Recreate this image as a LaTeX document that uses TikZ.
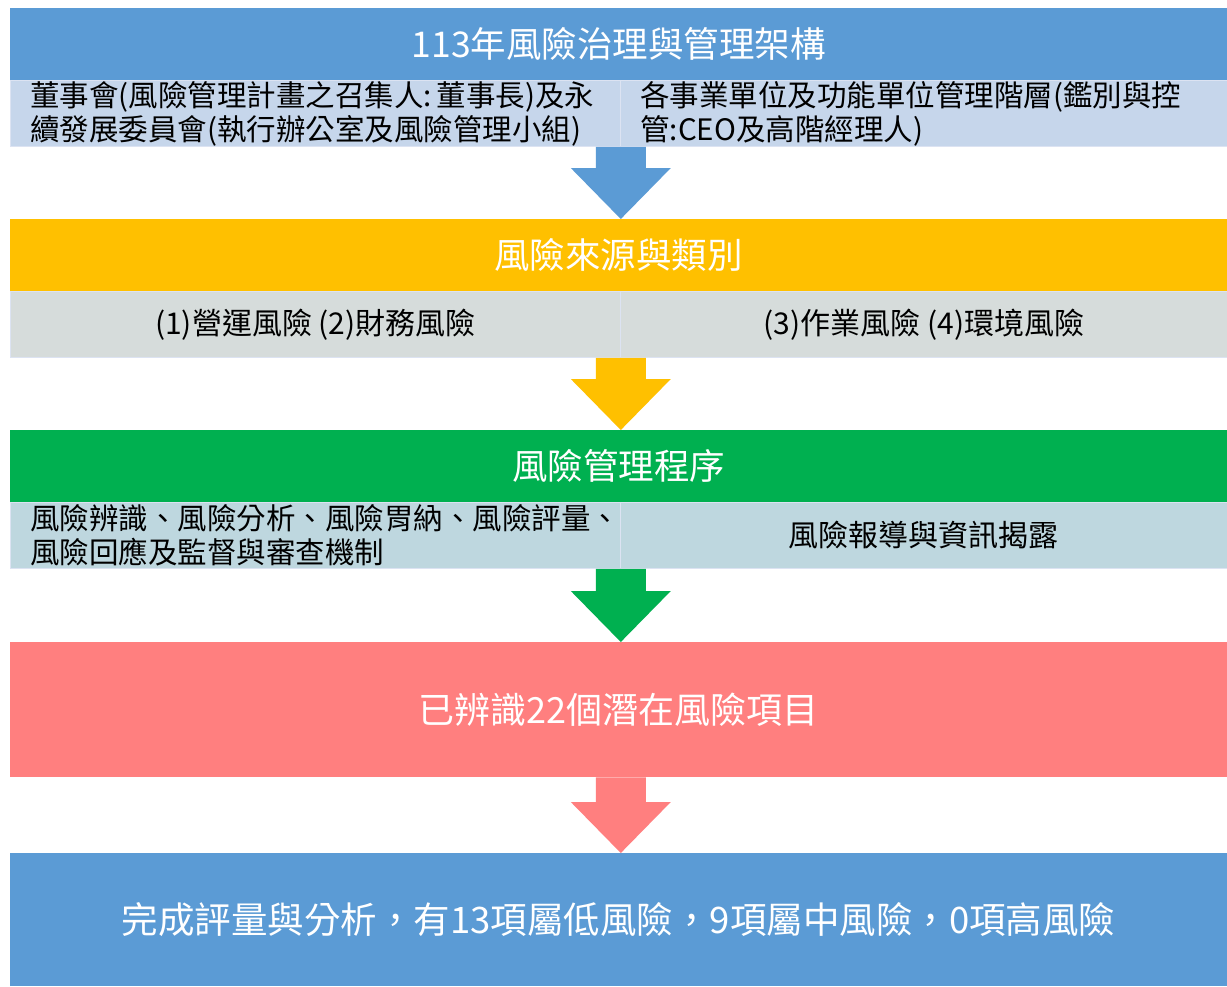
\documentclass[tikz,border=0pt]{standalone}
\usepackage{fontspec}
\setmainfont{Noto Sans CJK TC}
\usetikzlibrary{calc}
\definecolor{topblue}{HTML}{5B9BD5}
\definecolor{rowblue}{HTML}{C6D6EB}
\definecolor{amber}{HTML}{FFC000}
\definecolor{rowgray}{HTML}{D6DCDB}
\definecolor{grn}{HTML}{00B050}
\definecolor{rowteal}{HTML}{BED7DF}
\definecolor{salmon}{HTML}{FF7F7F}
\definecolor{cellline}{HTML}{DCE3F2}
\newcommand\myblockarrow[3]{%
  \fill[#1] ($(#2)+(-25,0)$) -- ($(#3)+(-25,-51)$) -- ($(#3)+(-50,-51)$) -- (#3)
    -- ($(#3)+(50,-51)$) -- ($(#3)+(25,-51)$) -- ($(#2)+(25,0)$) -- cycle;}
\begin{document}
\begin{tikzpicture}[x=1pt,y=-1pt,
  bar/.style={anchor=north west, minimum width=1217pt, minimum height=72pt, inner sep=0pt,
    text=white, font=\fontsize{35.5}{40}\selectfont},
  cellL/.style={anchor=north west, minimum height=66pt, draw=cellline, line width=0.8pt,
    inner xsep=20pt, inner ysep=0pt, text width=570pt, align=left, font=\fontsize{29.5}{34}\selectfont},
  cellR/.style={anchor=north west, minimum height=66pt, draw=cellline, line width=0.8pt,
    inner xsep=20pt, inner ysep=0pt, text width=567pt, align=left, font=\fontsize{29.5}{34}\selectfont},
  cellC/.style={anchor=north west, minimum height=66pt, draw=cellline, line width=0.8pt,
    inner sep=0pt, align=center, font=\fontsize{30}{34}\selectfont}]
\useasboundingbox (0,0) rectangle (1227,986);
\fill[white] (0,0) rectangle (1227,986);

% level 1
\node[bar, fill=topblue, font=\fontsize{35.5}{40}\selectfont] (top) at (10,8) {113年風險治理與管理架構};
\node[cellL, fill=rowblue] (r1l) at (10,80) {董事會(風險管理計畫之召集人:\,董事長)及永\\續發展委員會(執行辦公室及風險管理小組)};
\node[cellR, fill=rowblue] (r1r) at (620,80) {各事業單位及功能單位管理階層(鑑別與控\\管:CEO及高階經理人)};

% level 2
\node[bar, fill=amber] (yel) at (10,219) {風險來源與類別};
\node[cellC, fill=rowgray, minimum width=610pt] (r2l) at (10,291) {(1)營運風險 (2)財務風險};
\node[cellC, fill=rowgray, minimum width=607pt] (r2r) at (620,291) {(3)作業風險 (4)環境風險};

% level 3
\node[bar, fill=grn] (gr) at (10,430) {風險管理程序};
\node[cellL, fill=rowteal] (r3l) at (10,502) {風險辨識、風險分析、風險胃納、風險評量、\\風險回應及監督與審查機制};
\node[cellC, fill=rowteal, minimum width=607pt] (r3r) at (620,502) {風險報導與資訊揭露};

% level 4
\node[bar, fill=salmon, minimum height=135pt, font=\fontsize{36}{40}\selectfont] (sal) at (10,642) {已辨識22個潛在風險項目};

% level 5
\node[bar, fill=topblue, minimum height=133pt, font=\fontsize{36.5}{40}\selectfont] (res) at (10,853) {完成評量與分析，有13項屬低風險，9項屬中風險，0項高風險};

% arrows
\coordinate (t1) at (r1l.south east |- yel.north);
\coordinate (t2) at (r2l.south east |- gr.north);
\coordinate (t3) at (r3l.south east |- sal.north);
\coordinate (s4) at (r3l.south east |- sal.south);
\coordinate (t4) at (r3l.south east |- res.north);
\myblockarrow{topblue}{r1l.south east}{t1}
\myblockarrow{amber}{r2l.south east}{t2}
\myblockarrow{grn}{r3l.south east}{t3}
\myblockarrow{salmon}{s4}{t4}
\end{tikzpicture}
\end{document}
